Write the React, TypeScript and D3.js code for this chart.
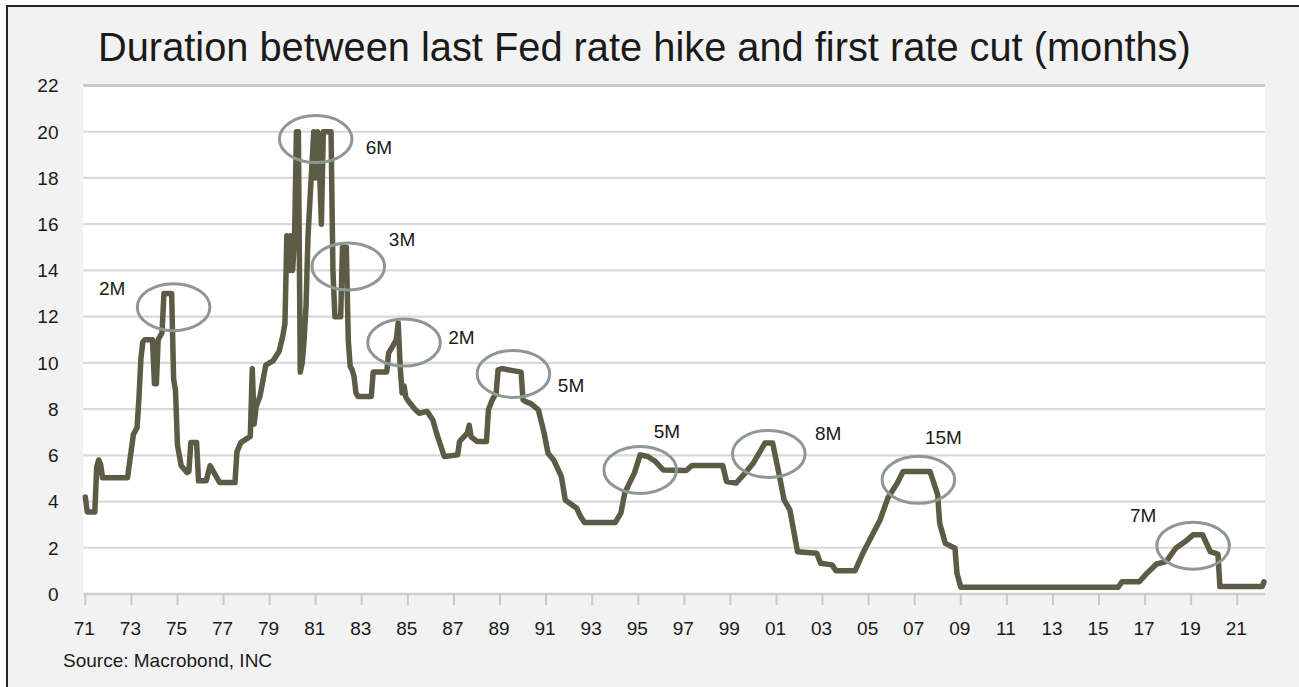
import { useMemo } from "react";
import { scaleLinear, scaleTime, timeParse, line, curveLinear } from "d3";

const totalWidth = 1299;
const totalHeight = 687;
const plotLeft = 85.3;
const plotRight = 1264;
const plotTop = 85.5;
const plotBottom = 594;

const title = "Duration between last Fed rate hike and first rate cut (months)";
const source = "Source: Macrobond, INC";

// monthly observations (only the turning points are listed)
const dates = [
  "1971-01", "1971-02", "1971-06", "1971-07", "1971-08", "1971-09", "1971-10", "1972-11",
  "1973-02", "1973-04", "1973-05", "1973-06", "1973-07", "1973-08", "1973-12", "1974-01",
  "1974-02", "1974-03", "1974-05", "1974-06", "1974-10", "1974-11", "1974-12", "1975-01",
  "1975-03", "1975-06", "1975-07", "1975-08", "1975-11", "1975-12", "1976-04", "1976-06",
  "1976-11", "1977-07", "1977-08", "1977-10", "1978-03", "1978-04", "1978-05", "1978-06",
  "1978-08", "1978-11", "1979-03", "1979-06", "1979-08", "1979-09", "1979-10", "1979-11",
  "1979-12", "1980-01", "1980-02", "1980-03", "1980-04", "1980-05", "1980-06", "1980-07",
  "1980-08", "1980-09", "1980-10", "1980-11", "1980-12", "1981-01", "1981-02", "1981-03",
  "1981-04", "1981-05", "1981-09", "1981-10", "1981-11", "1982-02", "1982-03", "1982-05",
  "1982-06", "1982-07", "1982-08", "1982-09", "1982-10", "1982-11", "1983-06", "1983-07",
  "1984-02", "1984-03", "1984-05", "1984-07", "1984-08", "1984-09", "1984-10", "1984-11",
  "1984-12", "1985-02", "1985-05", "1985-07", "1985-11", "1986-02", "1986-04", "1986-06",
  "1986-08", "1987-03", "1987-04", "1987-08", "1987-09", "1987-10", "1988-01", "1988-06",
  "1988-07", "1988-09", "1988-11", "1988-12", "1989-02", "1989-12", "1990-01", "1990-03",
  "1990-05", "1990-09", "1990-12", "1991-02", "1991-05", "1991-09", "1991-11", "1992-05",
  "1992-07", "1992-09", "1994-01", "1994-04", "1994-06", "1994-08", "1994-11", "1995-02",
  "1995-06", "1995-10", "1996-02", "1997-02", "1997-05", "1998-09", "1998-11", "1999-04",
  "1999-08", "2000-01", "2000-05", "2000-07", "2000-11", "2001-03", "2001-05", "2001-08",
  "2001-12", "2002-10", "2002-12", "2003-06", "2003-08", "2004-06", "2004-10", "2005-02",
  "2005-07", "2005-11", "2006-04", "2006-07", "2007-09", "2007-11", "2008-01", "2008-02",
  "2008-05", "2008-10", "2008-11", "2009-01", "2015-11", "2016-01", "2016-10", "2017-02",
  "2017-07", "2017-12", "2018-05", "2018-11", "2019-02", "2019-07", "2019-11", "2020-03",
  "2020-04", "2022-02", "2022-03",
];

const months = [
  4.2, 3.55, 3.55, 5.5, 5.8, 5.6, 5.03, 5.03,
  6.9, 7.2, 8.5, 10.2, 10.9, 11.0, 11.0, 9.1,
  9.1, 11.0, 11.3, 13.0, 13.0, 9.3, 8.8, 6.45,
  5.55, 5.26, 5.3, 6.55, 6.55, 4.9, 4.9, 5.55,
  4.82, 4.82, 6.15, 6.55, 6.82, 9.75, 7.35, 8.1,
  8.55, 9.9, 10.1, 10.5, 11.2, 11.7, 15.5, 14.0,
  15.5, 14.0, 15.5, 20.0, 20.0, 9.6, 10.0, 11.0,
  12.5, 15.5, 17.0, 18.5, 20.0, 18.0, 20.0, 18.5,
  16.0, 20.0, 20.0, 14.0, 12.0, 12.0, 15.0, 15.0,
  11.0, 9.85, 9.7, 9.4, 8.7, 8.55, 8.55, 9.6,
  9.6, 10.42, 10.7, 11.0, 11.73, 9.85, 8.7, 9.0,
  8.5, 8.26, 7.97, 7.82, 7.9, 7.53, 6.96, 6.45,
  5.95, 6.02, 6.6, 6.96, 7.3, 6.8, 6.6, 6.6,
  7.97, 8.4, 8.7, 9.7, 9.75, 9.6, 8.4, 8.3,
  8.25, 7.97, 6.96, 6.09, 5.8, 5.08, 4.07, 3.71,
  3.35, 3.09, 3.09, 3.5, 4.36, 4.72, 5.23, 6.02,
  5.95, 5.73, 5.37, 5.34, 5.56, 5.56, 4.87, 4.8,
  5.16, 5.67, 6.24, 6.53, 6.53, 4.94, 4.07, 3.64,
  1.83, 1.76, 1.33, 1.26, 1.01, 1.01, 1.76, 2.41,
  3.2, 4.15, 4.8, 5.3, 5.3, 4.8, 4.29, 3.06,
  2.19, 1.98, 0.9, 0.29, 0.29, 0.53, 0.53, 0.9,
  1.3, 1.4, 1.98, 2.34, 2.56, 2.56, 1.83, 1.73,
  0.32, 0.32, 0.53,
];

const yTicks = [0, 2, 4, 6, 8, 10, 12, 14, 16, 18, 20, 22];
const xTickYears = [
  1971, 1973, 1975, 1977, 1979, 1981, 1983, 1985, 1987, 1989, 1991, 1993, 1995,
  1997, 1999, 2001, 2003, 2005, 2007, 2009, 2011, 2013, 2015, 2017, 2019, 2021,
];
const xTickLabels = [
  "71", "73", "75", "77", "79", "81", "83", "85", "87", "89", "91", "93", "95",
  "97", "99", "01", "03", "05", "07", "09", "11", "13", "15", "17", "19", "21",
];

// circled periods: centre in chart coordinates, plus where the label sits
const annoLabels = ["2M", "6M", "3M", "2M", "5M", "5M", "8M", "15M", "7M"];
const annoDates = ["1974-11", "1981-01", "1982-06", "1984-11", "1989-08", "1995-02", "2000-09", "2007-03", "2019-02"];
const annoValues = [12.41, 19.68, 14.17, 10.88, 9.52, 5.37, 6.06, 4.94, 2.09];
const annoLabelDates = ["1972-03", "1983-10", "1984-10", "1987-05", "1992-02", "1996-04", "2003-04", "2008-04", "2016-12"];
const annoLabelValues = [13.25, 19.32, 15.35, 11.1, 9.02, 7.03, 6.96, 6.77, 3.42];

const font = "'Liberation Sans', Arial, Helvetica, sans-serif";
const parseMonth = timeParse("%Y-%m");

export default function App() {
  const { xScale, yScale, path } = useMemo(() => {
    const xScale = scaleTime()
      .domain([parseMonth("1971-01") as Date, parseMonth("2022-03") as Date])
      .range([plotLeft, plotRight]);
    const yScale = scaleLinear().domain([0, 22]).range([plotBottom, plotTop]);
    const points = dates.map((d, i) => ({ date: parseMonth(d) as Date, value: months[i] }));
    const path = line<{ date: Date; value: number }>()
      .x((d) => xScale(d.date))
      .y((d) => yScale(d.value))
      .curve(curveLinear)(points);
    return { xScale, yScale, path };
  }, []);

  return (
    <svg
      width={totalWidth}
      height={totalHeight}
      viewBox={`0 0 ${totalWidth} ${totalHeight}`}
      style={{ position: "absolute", left: 0, top: 0, display: "block" }}
      fontFamily={font}
    >
      <rect x={0} y={0} width={totalWidth} height={totalHeight} fill="white" />
      <rect x={7} y={6} width={totalWidth + 10} height={totalHeight + 10} fill="#f2f2f2" stroke="#262626" strokeWidth={2} />
      <rect x={83.3} y={yScale(22)} width={1265 - 83.3} height={plotBottom - yScale(22)} fill="white" />

      <text x={98} y={61} fontSize={39.8} fill="#1a1a1a">
        {title}
      </text>

      {yTicks.map((t) => (
        <g key={t}>
          {t > 0 && (
            <line
              x1={83.3}
              x2={1265}
              y1={yScale(t)}
              y2={yScale(t)}
              stroke={t === 22 ? "#c9c9c9" : "#d9d9d9"}
              strokeWidth={t === 22 ? 3 : 2.2}
            />
          )}
          <text x={58.5} y={yScale(t)} dy="0.36em" textAnchor="end" fontSize={19} fill="#1a1a1a">
            {t}
          </text>
        </g>
      ))}

      <line x1={83.3} x2={1265} y1={plotBottom} y2={plotBottom} stroke="#cfcfcf" strokeWidth={2.5} />
      {xTickYears.map((yr, i) => {
        const x = xScale(new Date(yr, 0, 1));
        return (
          <g key={yr}>
            <line x1={x} x2={x} y1={plotBottom} y2={plotBottom + 11} stroke="#c8c8c8" strokeWidth={2} />
            <text x={x - 1} y={635} textAnchor="middle" fontSize={19} fill="#1a1a1a">
              {xTickLabels[i]}
            </text>
          </g>
        );
      })}

      <path
        d={path ?? ""}
        fill="none"
        stroke="#5c5b46"
        strokeWidth={5.5}
        strokeLinejoin="round"
        strokeLinecap="round"
      />

      {annoLabels.map((label, i) => (
        <g key={i}>
          <ellipse
            cx={xScale(parseMonth(annoDates[i]) as Date)}
            cy={yScale(annoValues[i])}
            rx={36.3}
            ry={23.5}
            fill="none"
            stroke="#8e9893"
            strokeWidth={3}
          />
          <text
            x={xScale(parseMonth(annoLabelDates[i]) as Date)}
            y={yScale(annoLabelValues[i])}
            dy="0.36em"
            textAnchor="middle"
            fontSize={19}
            fill="#1a1a1a"
          >
            {label}
          </text>
        </g>
      ))}

      <text x={63} y={667} fontSize={19} fill="#1a1a1a">
        {source}
      </text>
    </svg>
  );
}
